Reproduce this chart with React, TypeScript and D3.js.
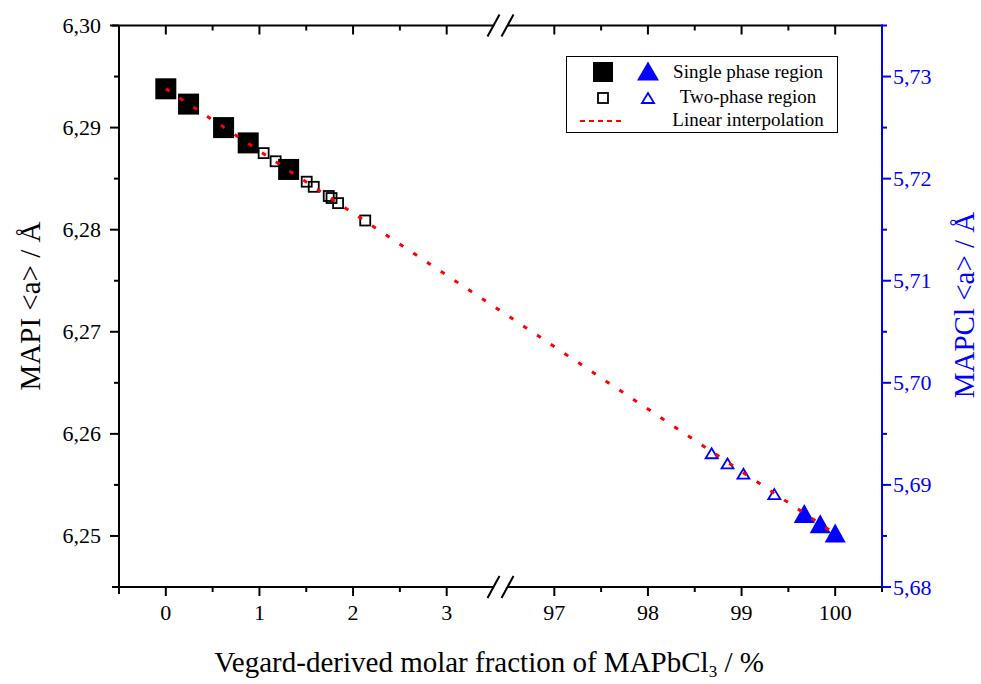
import React from "react";
import * as d3 from "d3";

// MAPI side (left axis), x in % MAPbCl3
const singleX = [0, 0.243, 0.617, 0.88, 1.312];
const singleA = [6.2938, 6.2923, 6.29, 6.2885, 6.2859];
const twoX = [1.045, 1.173, 1.33, 1.505, 1.58, 1.74, 1.77, 1.84, 2.13];
const twoA = [6.2875, 6.2867, 6.2858, 6.2847, 6.2842, 6.2833, 6.2831, 6.2826, 6.2809];

// MAPCl side (right axis)
const clTwoX = [98.68, 98.85, 99.02, 99.35];
const clTwoA = [5.6931, 5.6921, 5.6911, 5.6891];
const clSingleX = [99.67, 99.84, 100.0];
const clSingleA = [5.6872, 5.6862, 5.6853];

// linear interpolation, read on the left axis
const lineX = [0, 3.5, 96.5, 100];
const lineA = [6.2938, 6.2725, 6.2716, 6.2502];

const xMajorLeft = [0, 1, 2, 3];
const xMinorLeft = [-0.5, 0.5, 1.5, 2.5];
const xMajorRight = [97, 98, 99, 100];
const xMinorRight = [97.5, 98.5, 99.5, 100.5];
const yLeftMajor = [6.25, 6.26, 6.27, 6.28, 6.29, 6.3];
const yLeftMinor = [6.245, 6.255, 6.265, 6.275, 6.285, 6.295];
const yRightMajor = [5.68, 5.69, 5.7, 5.71, 5.72, 5.73];
const yRightMinor = [5.685, 5.695, 5.705, 5.715, 5.725, 5.735];

const W = 981;
const H = 684;
const L = 119;
const R = 882;
const T = 25.5;
const B = 587;
const brkA = 493.5;
const brkB = 507.5;
const BLUE = "#0000ff";
const FONT = "'Liberation Serif', 'Times New Roman', serif";

const x = d3.scaleLinear().domain([-0.5, 3.5, 96.5, 100.5]).range([L, brkA, brkB, R]);
const yL = d3.scaleLinear().domain([6.245, 6.3]).range([B, T]);
const yR = d3.scaleLinear().domain([5.68, 5.735]).range([B, T]);

const fmt = (v: number) => d3.format(".2f")(v).replace(".", ",");

const tri = (cx: number, cy: number, w: number, h: number) =>
  `M${cx},${cy - h / 2}L${cx + w / 2},${cy + h / 2}L${cx - w / 2},${cy + h / 2}Z`;

export default function App() {
  const xMajor = [...xMajorLeft, ...xMajorRight];
  const xMinor = [...xMinorLeft, ...xMinorRight];

  const line = d3
    .line<number>()
    .x((_, i) => x(lineX[i]))
    .y((d) => yL(d));

  const slash = (cx: number, cy: number) => (
    <line x1={cx - 6} y1={cy + 11} x2={cx + 6} y2={cy - 11} stroke="#000" strokeWidth={2} />
  );

  return (
    <div style={{ position: "absolute", left: 0, top: 0 }}>
      <svg width={W} height={H} style={{ display: "block", background: "#fff" }} fontFamily={FONT}>
        {/* bottom & top axes with break */}
        {[B, T].map((yy) => (
          <g key={yy} stroke="#000" strokeWidth={2}>
            <line x1={L - 7} x2={brkA} y1={yy} y2={yy} />
            <line x1={brkB} x2={R} y1={yy} y2={yy} />
            {slash(brkA, yy)}
            {slash(brkB, yy)}
          </g>
        ))}
        {xMajor.map((v) => (
          <g key={"xm" + v} stroke="#000" strokeWidth={2}>
            <line x1={x(v)} x2={x(v)} y1={B} y2={B + 9} />
            <line x1={x(v)} x2={x(v)} y1={T} y2={T + 9} />
          </g>
        ))}
        {xMinor.map((v) => (
          <g key={"xn" + v} stroke="#000" strokeWidth={2}>
            <line x1={x(v)} x2={x(v)} y1={B} y2={B + 5} />
            <line x1={x(v)} x2={x(v)} y1={T} y2={T + 5} />
          </g>
        ))}
        {xMajor.map((v) => (
          <text key={"xl" + v} x={x(v)} y={620} fontSize={22} textAnchor="middle" fill="#000">
            {v}
          </text>
        ))}

        {/* left axis */}
        <line x1={L} x2={L} y1={T} y2={B + 7} stroke="#000" strokeWidth={2} />
        {yLeftMajor.map((v) => (
          <line key={"ylm" + v} x1={L - 9} x2={L} y1={yL(v)} y2={yL(v)} stroke="#000" strokeWidth={2} />
        ))}
        {yLeftMinor.map((v) => (
          <line key={"yln" + v} x1={L - 5} x2={L} y1={yL(v)} y2={yL(v)} stroke="#000" strokeWidth={2} />
        ))}
        {yLeftMajor.map((v) => (
          <text key={"yll" + v} x={101} y={yL(v) + 7.5} fontSize={22} textAnchor="end" fill="#000">
            {fmt(v)}
          </text>
        ))}

        {/* right axis */}
        <line x1={R} x2={R} y1={T - 1} y2={B} stroke={BLUE} strokeWidth={2} />
        {yRightMajor.map((v) => (
          <line key={"yrm" + v} x1={R} x2={R + 9} y1={yR(v)} y2={yR(v)} stroke={BLUE} strokeWidth={2} />
        ))}
        {yRightMinor.map((v) => (
          <line key={"yrn" + v} x1={R} x2={R + 5} y1={yR(v)} y2={yR(v)} stroke={BLUE} strokeWidth={2} />
        ))}
        {yRightMajor.map((v) => (
          <text key={"yrl" + v} x={893} y={yR(v) + 7.5} fontSize={22} fill={BLUE}>
            {fmt(v)}
          </text>
        ))}

        {/* axis titles */}
        <text transform="translate(40,306) rotate(-90)" fontSize={29} textAnchor="middle" fill="#000">
          MAPI &lt;a&gt; / Å
        </text>
        <text transform="translate(974,305) rotate(-90)" fontSize={29} textAnchor="middle" fill={BLUE}>
          MAPCl &lt;a&gt; / Å
        </text>
        <text x={489} y={672} fontSize={29} textAnchor="middle" fill="#000">
          Vegard-derived molar fraction of MAPbCl
          <tspan fontSize={17} dy={5}>3</tspan>
          <tspan dy={-5}> / %</tspan>
        </text>

        {/* markers */}
        {singleX.map((v, i) => (
          <rect key={"s" + i} x={x(v) - 10.5} y={yL(singleA[i]) - 10.5} width={21} height={21} fill="#000" />
        ))}
        {twoX.map((v, i) => (
          <rect
            key={"t" + i}
            x={x(v) - 5}
            y={yL(twoA[i]) - 5}
            width={10}
            height={10}
            fill="none"
            stroke="#000"
            strokeWidth={1.8}
          />
        ))}
        {clTwoX.map((v, i) => (
          <path key={"ct" + i} d={tri(x(v), yR(clTwoA[i]), 12, 10)} fill="none" stroke={BLUE} strokeWidth={1.8} />
        ))}
        {clSingleX.map((v, i) => (
          <path key={"cs" + i} d={tri(x(v), yR(clSingleA[i]), 21, 19)} fill={BLUE} />
        ))}

        {/* interpolation */}
        <path
          d={line(lineA) || ""}
          fill="none"
          stroke="#ff0000"
          strokeWidth={3}
          strokeDasharray="4.5 12"
        />

        {/* legend */}
        <rect x={566.5} y={56.5} width={271} height={76} fill="#fff" stroke="#000" strokeWidth={1} />
        <rect x={593} y={62} width={20} height={20} fill="#000" />
        <path d={tri(648, 71, 22, 19)} fill={BLUE} />
        <rect x={598} y={93} width={10} height={10} fill="none" stroke="#000" strokeWidth={1.8} />
        <path d={tri(648, 98, 12, 10)} fill="none" stroke={BLUE} strokeWidth={1.8} />
        <line x1={580} x2={624} y1={121} y2={121} stroke="#ff0000" strokeWidth={2} strokeDasharray="5 4" />
        <text x={748} y={78} fontSize={19} textAnchor="middle" fill="#000">Single phase region</text>
        <text x={748} y={103} fontSize={19} textAnchor="middle" fill="#000">Two-phase region</text>
        <text x={748} y={126} fontSize={19} textAnchor="middle" fill="#000">Linear interpolation</text>
      </svg>
    </div>
  );
}
